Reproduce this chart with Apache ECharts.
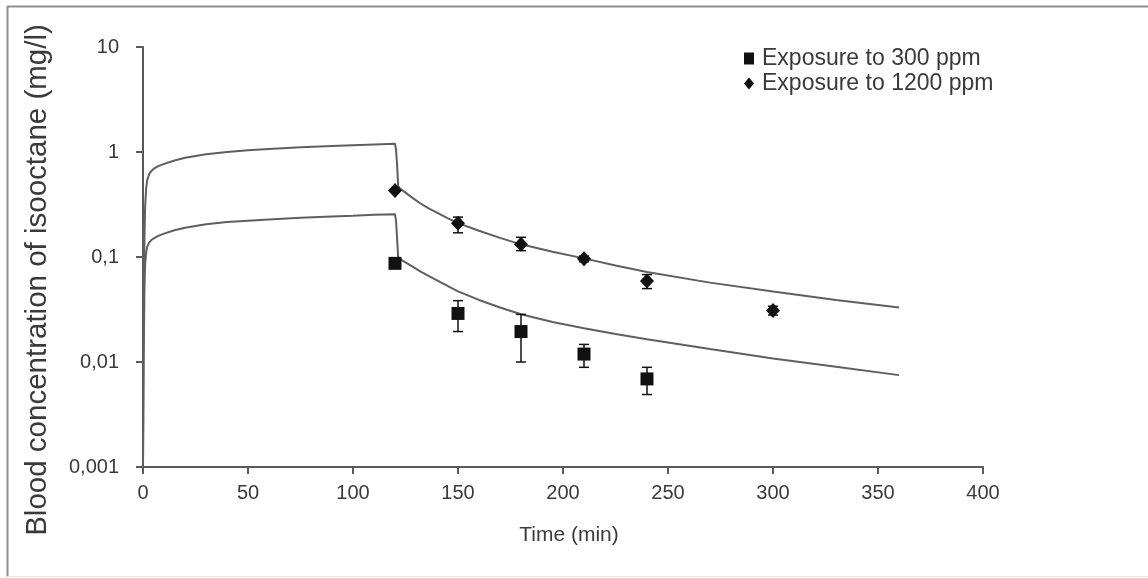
<!DOCTYPE html>
<html>
<head>
<meta charset="utf-8">
<script src="https://cdn.jsdelivr.net/npm/echarts@6/dist/echarts.min.js"></script>
<style>
html,body{margin:0;padding:0;background:#fff;}
#chart{width:1148px;height:578px;}
</style>
</head>
<body>
<div id="chart"></div>
<script>
// ---- Data ----
const xTicks = [0, 50, 100, 150, 200, 250, 300, 350, 400];
const yTickLabels = {"0.001": "0,001", "0.01": "0,01", "0.1": "0,1", "1": "1", "10": "10"};

// Simulated curves (time in min)
const simTime = [0, 0.3, 0.7, 1, 1.5, 2, 3, 4, 5, 7, 10, 15, 20, 30, 40, 50, 60, 75, 90, 100, 110, 120,
  120.5, 121, 121.5, 122, 123, 125, 128, 132, 136, 140, 145, 150, 160, 170, 180, 195, 210, 225, 240, 270, 300, 330, 360];
const sim1200 = [0.001, 0.03, 0.15, 0.3, 0.45, 0.54, 0.62, 0.66, 0.69, 0.73, 0.77, 0.83, 0.88, 0.95, 1.0, 1.04, 1.07, 1.11, 1.14, 1.16, 1.18, 1.2,
  1.05, 0.75, 0.48, 0.455, 0.44, 0.41, 0.37, 0.325, 0.29, 0.265, 0.235, 0.21, 0.178, 0.152, 0.132, 0.112, 0.097, 0.083, 0.072, 0.057, 0.047, 0.039, 0.033];
const sim300 = [0.001, 0.01, 0.05, 0.085, 0.11, 0.125, 0.138, 0.145, 0.15, 0.158, 0.167, 0.18, 0.19, 0.205, 0.215, 0.222, 0.228, 0.236, 0.243, 0.247, 0.252, 0.256,
  0.22, 0.15, 0.1, 0.097, 0.094, 0.089, 0.082, 0.073, 0.066, 0.06, 0.053, 0.047, 0.039, 0.033, 0.0285, 0.024, 0.021, 0.0185, 0.0165, 0.0133, 0.0108, 0.009, 0.0075];

// Measured points
const obsTime1200 = [120, 150, 180, 210, 240, 300];
const obs1200 = [0.43, 0.21, 0.132, 0.096, 0.059, 0.031];
const obs1200Low = [0.43, 0.17, 0.115, 0.09, 0.05, 0.028];
const obs1200High = [0.43, 0.24, 0.154, 0.102, 0.068, 0.034];

const obsTime300 = [120, 150, 180, 210, 240];
const obs300 = [0.087, 0.029, 0.0195, 0.0119, 0.0069];
const obs300Low = [0.087, 0.0195, 0.010, 0.0089, 0.0049];
const obs300High = [0.087, 0.0384, 0.0284, 0.0147, 0.0089];

const name300 = "Exposure to 300 ppm";
const name1200 = "Exposure to 1200 ppm";

// ---- Build ----
const pair = (xs, ys) => xs.map((x, i) => [x, ys[i]]);
const errData = (xs, lo, hi) => xs.map((x, i) => [x, lo[i], hi[i]]);

const axisColor = "#5a5a5a";
const textColor = "#3a3a3a";
const font = "Liberation Sans, Arial, sans-serif";

function errRender(params, api) {
  const x = api.value(0);
  const lo = api.value(1), hi = api.value(2);
  if (lo === hi) return null;
  const p1 = api.coord([x, hi]);
  const p2 = api.coord([x, lo]);
  const cap = 5;
  const st = {stroke: "#111", lineWidth: 1.5};
  return {
    type: "group",
    children: [
      {type: "line", shape: {x1: p1[0], y1: p1[1], x2: p2[0], y2: p2[1]}, style: st},
      {type: "line", shape: {x1: p1[0] - cap, y1: p1[1], x2: p1[0] + cap, y2: p1[1]}, style: st},
      {type: "line", shape: {x1: p2[0] - cap, y1: p2[1], x2: p2[0] + cap, y2: p2[1]}, style: st}
    ]
  };
}

const chart = echarts.init(document.getElementById("chart"), null, {renderer: "canvas"});
chart.setOption({
  animation: false,
  backgroundColor: "#fff",
  grid: {left: 143, top: 47, right: 165, bottom: 111, containLabel: false},
  legend: {
    data: [
      {name: name300, icon: "rect", itemStyle: {color: "#111", opacity: 1}},
      {name: name1200, icon: "diamond", itemStyle: {color: "#111", opacity: 1}}
    ],
    orient: "vertical",
    left: 739,
    top: 42,
    itemWidth: 10,
    itemHeight: 12,
    itemGap: 2,
    textStyle: {fontSize: 23, color: textColor, fontFamily: font, padding: [0, 0, 0, 3]}
  },
  xAxis: {
    type: "value",
    min: 0, max: 400, interval: 50,
    name: "Time (min)",
    nameLocation: "middle",
    nameGap: 58,
    nameTextStyle: {fontSize: 21, color: textColor, fontFamily: font, padding: [0, 0, 0, 12]},
    axisLine: {show: true, onZero: false, lineStyle: {color: axisColor, width: 2}},
    axisTick: {show: true, inside: false, length: 7, lineStyle: {color: axisColor, width: 2}},
    axisLabel: {fontSize: 20, color: textColor, fontFamily: font, margin: 16},
    splitLine: {show: false}
  },
  yAxis: {
    type: "log",
    logBase: 10,
    min: 0.001, max: 10,
    axisLine: {show: true, onZero: false, lineStyle: {color: axisColor, width: 2}},
    axisTick: {show: true, inside: false, length: 7, lineStyle: {color: axisColor, width: 2}},
    axisLabel: {
      fontSize: 20, color: textColor, fontFamily: font, margin: 24,
      formatter: function (v) {
        const k = String(+v.toPrecision(3));
        return yTickLabels[k] !== undefined ? yTickLabels[k] : k.replace(".", ",");
      }
    },
    minorTick: {show: false},
    splitLine: {show: false}
  },
  graphic: [
    {type: "line", shape: {x1: 7, y1: 6.5, x2: 1148, y2: 6.5}, style: {stroke: "#8f8f8f", lineWidth: 2}},
    {type: "line", shape: {x1: 7.5, y1: 6, x2: 7.5, y2: 577}, style: {stroke: "#8f8f8f", lineWidth: 2}},
    {type: "line", shape: {x1: 7, y1: 576.5, x2: 1148, y2: 576.5}, style: {stroke: "#e6e6e6", lineWidth: 1}},
    {
      type: "text", x: 38, y: 280, rotation: Math.PI / 2,
      style: {
        text: "Blood concentration of isooctane (mg/l)",
        font: "29.5px " + font,
        fill: textColor,
        textAlign: "center",
        textVerticalAlign: "middle"
      }
    }
  ],
  series: [
    {
      type: "line", name: "sim1200", data: pair(simTime, sim1200),
      showSymbol: false, symbol: "none", smooth: false,
      lineStyle: {color: "#5f5f5f", width: 2}, z: 2
    },
    {
      type: "line", name: "sim300", data: pair(simTime, sim300),
      showSymbol: false, symbol: "none", smooth: false,
      lineStyle: {color: "#5f5f5f", width: 2}, z: 2
    },
    {
      type: "custom", name: "err1200", renderItem: errRender,
      data: errData(obsTime1200, obs1200Low, obs1200High), z: 3,
      encode: {x: 0, y: [1, 2]}
    },
    {
      type: "custom", name: "err300", renderItem: errRender,
      data: errData(obsTime300, obs300Low, obs300High), z: 3,
      encode: {x: 0, y: [1, 2]}
    },
    {
      type: "scatter", name: name300, data: pair(obsTime300, obs300),
      symbol: "rect", symbolSize: 13,
      itemStyle: {color: "#111", opacity: 1}, z: 4
    },
    {
      type: "scatter", name: name1200, data: pair(obsTime1200, obs1200),
      symbol: "diamond", symbolSize: [14, 15],
      itemStyle: {color: "#111", opacity: 1}, z: 4
    }
  ]
});
</script>
</body>
</html>
